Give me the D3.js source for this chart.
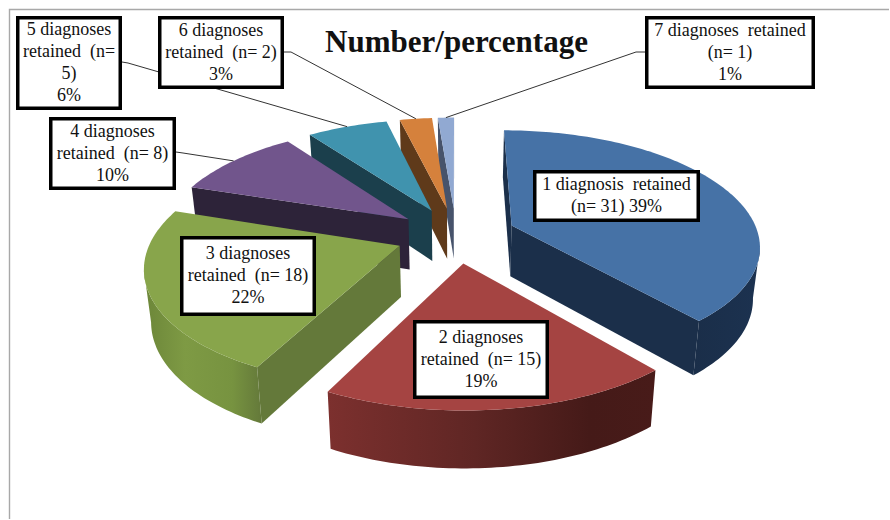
<!DOCTYPE html>
<html>
<head>
<meta charset="utf-8">
<script src="https://cdnjs.cloudflare.com/ajax/libs/d3/7.8.5/d3.min.js"></script>
<style>
  html, body { margin: 0; padding: 0; background: #fff; }
  svg { display: block; }
  text { font-family: "Liberation Serif", serif; fill: #111; }
</style>
</head>
<body>
<svg id="chart" width="890" height="520"></svg>
<script>
// Retained diagnosis counts, one per slice.
const counts = [31, 15, 18, 8, 5, 2, 1];
const labelLines = [
  ["1 diagnosis  retained", "(n= 31) 39%"],
  ["2 diagnoses", "retained  (n= 15)", "19%"],
  ["3 diagnoses", "retained  (n= 18)", "22%"],
  ["4 diagnoses", "retained  (n= 8)", "10%"],
  ["5 diagnoses", "retained  (n=", "5)", "6%"],
  ["6 diagnoses", "retained  (n= 2)", "3%"],
  ["7 diagnoses  retained", "(n= 1)", "1%"]
];
const topColors = ["#4672a6", "#a54442", "#88a54b", "#71558c", "#4093ae", "#d5813c", "#91a9d2"];
const sideColors = ["#1b2f4a", "#5e2422", "#64793a", "#2d2339", "#1b3f4c", "#5f3a1a", "#47536b"];
const rimStops = [
  [["0%", "#1a2e49"], ["100%", "#1c3250"]],
  [["0%", "#7c302e"], ["45%", "#5f2624"], ["80%", "#451a18"], ["100%", "#481b19"]],
  [["0%", "#6c8639"], ["35%", "#7e9a44"], ["75%", "#779340"], ["100%", "#64793a"]],
  [["0%", "#2d2339"], ["100%", "#2d2339"]],
  [["0%", "#1b3f4c"], ["100%", "#1b3f4c"]],
  [["0%", "#5f3a1a"], ["100%", "#5f3a1a"]],
  [["0%", "#47536b"], ["100%", "#47536b"]]
];

// Label box extents: left, top, right, bottom.
const boxes = [
  [533, 170, 700, 222],
  [413, 320, 549, 399],
  [180, 236, 316, 316],
  [49, 117, 176, 190],
  [16, 16, 122, 110],
  [158, 16, 284, 89],
  [645, 16, 815, 89]
];
// Leader start points on the label boxes; null where the label sits on its slice.
const leaderStarts = [null, null, null, [176, 152], [122, 62], [284, 52], [645, 52]];
const leaderElbows = [null, null, null, [183, 153], [128, 63], [291, 52], [636, 52]];

// Pie geometry with a simple perspective tilt.
const centerX = 456, centerY = 235;
const radius = 247, explode = 0.243, tilt = 113.3, perspective = 0.16;
const baseNarrow = 0.977;

const svg = d3.select("#chart");
const defs = svg.append("defs");

// Chart frame: only the top and left edges fall inside the view.
svg.append("path")
  .attr("d", d3.line()([[889, 9.5], [9.5, 9.5], [9.5, 519]]))
  .attr("fill", "none").attr("stroke", "#a8a8a8").attr("stroke-width", 1.4);

const arcs = d3.pie().sort(null).startAngle(0).endAngle(2 * Math.PI)(counts);

// Plane point (u right, v toward viewer) to screen, top face or base.
function project(u, v, base) {
  const s = 1 / (1 - perspective * v);
  const x = radius * u * s, y = tilt * v * s;
  if (!base) return [centerX + x, centerY + y];
  return [centerX + x * baseNarrow, centerY + y + 23 + 28 * s];
}

function slicePoints(a) {
  const mid = (a.startAngle + a.endAngle) / 2;
  const ou = explode * Math.sin(mid), ov = -explode * Math.cos(mid);
  const rim = (t, base) => project(ou + Math.sin(t), ov - Math.cos(t), base);
  const apex = base => project(ou, ov, base);
  return { mid, rim, apex };
}

const angleSamples = a => {
  const n = Math.max(6, Math.ceil((a.endAngle - a.startAngle) / 0.02));
  return d3.range(n + 1).map(i => a.startAngle + (a.endAngle - a.startAngle) * i / n);
};

const line = d3.line();
const layer = svg.append("g");

// Painter's order: back slices first, then green, blue and the front red slice.
[6, 5, 4, 3, 2, 0, 1].forEach(i => {
  const a = arcs[i];
  const p = slicePoints(a);
  const g = layer.append("g");
  const ts = angleSamples(a);

  const gradId = "rim" + i;
  const grad = defs.append("linearGradient").attr("id", gradId);
  rimStops[i].forEach(st => grad.append("stop").attr("offset", st[0]).attr("stop-color", st[1]));

  // Radial walls facing the viewer.
  const A = p.apex(false), A2 = p.apex(true);
  const O1 = p.rim(a.startAngle, false), O1b = p.rim(a.startAngle, true);
  const O2 = p.rim(a.endAngle, false), O2b = p.rim(a.endAngle, true);
  if (O1[0] - A[0] < 0) {
    g.append("path").attr("d", line([A, O1, O1b, A2]) + "Z").attr("fill", sideColors[i]);
  }
  if (O2[0] - A[0] > 0) {
    g.append("path").attr("d", line([A, O2, O2b, A2]) + "Z").attr("fill", sideColors[i]);
  }

  // Outer wall: only the stretch where the rim runs right to left is visible.
  const visible = ts.filter((t, k) => k < ts.length - 1 && p.rim(ts[k + 1], false)[0] < p.rim(t, false)[0]);
  if (visible.length) {
    const wallTs = visible.concat(ts[ts.indexOf(visible[visible.length - 1]) + 1]);
    const topEdge = wallTs.map(t => p.rim(t, false));
    const baseEdge = wallTs.map(t => p.rim(t, true)).reverse();
    // The gradient runs left to right across the wall, so the bbox default applies.
    g.append("path").attr("d", line(topEdge.concat(baseEdge)) + "Z").attr("fill", `url(#${gradId})`);
  }

  // Top face.
  g.append("path").attr("d", line([A].concat(ts.map(t => p.rim(t, false)))) + "Z").attr("fill", topColors[i]);
});

// Leader lines from the outer labels to the rim midpoints.
const leaders = svg.append("g");
arcs.forEach((a, i) => {
  if (!leaderStarts[i]) return;
  const p = slicePoints(a);
  leaders.append("path")
    .attr("d", line([leaderStarts[i], leaderElbows[i], p.rim(p.mid, false)]))
    .attr("fill", "none").attr("stroke", "#333").attr("stroke-width", 1);
});

// Label boxes with their text lines.
const lineStep = 22;
labelLines.forEach((lines, i) => {
  const [x0, y0, x1, y1] = boxes[i];
  const g = svg.append("g");
  g.append("rect")
    .attr("x", x0 + 1.75).attr("y", y0 + 1.75)
    .attr("width", x1 - x0 - 3.5).attr("height", y1 - y0 - 3.5)
    .attr("fill", "#fff").attr("stroke", "#000").attr("stroke-width", 3.5);
  const cx = (x0 + x1) / 2;
  const first = (y0 + y1) / 2 - (lines.length - 1) * lineStep / 2 + 5;
  lines.forEach((t, k) => {
    g.append("text")
      .attr("x", cx).attr("y", first + k * lineStep)
      .attr("text-anchor", "middle").attr("font-size", 18)
      .attr("xml:space", "preserve")
      .style("white-space", "pre")
      .text(t);
  });
});

svg.append("text")
  .attr("x", 456.5).attr("y", 52)
  .attr("text-anchor", "middle")
  .attr("font-size", 31).attr("font-weight", "bold")
  .text("Number/percentage");
</script>
</body>
</html>
